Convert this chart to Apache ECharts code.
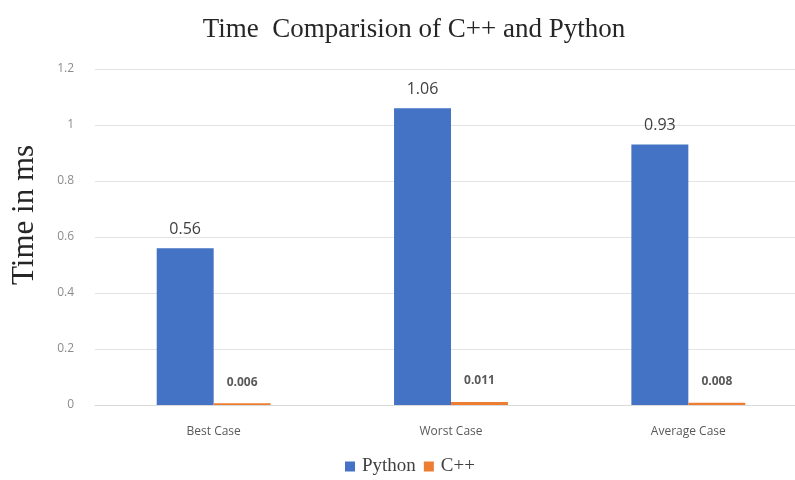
<!DOCTYPE html>
<html>
<head>
<meta charset="utf-8">
<script src="https://cdn.jsdelivr.net/npm/echarts@6/dist/echarts.min.js"></script>
<style>html,body{margin:0;padding:0;background:#fff}#c{width:795px;height:480px}</style>
</head>
<body>
<div id="c"></div>
<script>
const categories = ['Best Case', 'Worst Case', 'Average Case'];
const pythonValues = [0.56, 1.06, 0.93];
const cppValues = [0.006, 0.011, 0.008];
const yTicks = { min: 0, max: 1.2, interval: 0.2 };
const yAxisTitle = 'Time in ms';

const chart = echarts.init(document.getElementById('c'));
chart.setOption({
  animation: false,
  backgroundColor: '#fff',
  title: {
    text: 'Time  Comparision of C++ and Python',
    left: 409, top: 11, textAlign: 'center',
    textStyle: { fontFamily: 'Liberation Serif', fontSize: 27, fontWeight: 'normal', color: '#262626' }
  },
  graphic: [{
    type: 'text', x: 25, y: 215, rotation: Math.PI / 2,
    style: { text: yAxisTitle, fontFamily: 'Liberation Serif', fontSize: 31, fill: '#262626',
      align: 'center', verticalAlign: 'middle' }
  }],
  legend: {
    bottom: -1, left: 340,
    itemWidth: 10, itemHeight: 10, itemGap: 8,
    icon: 'rect',
    textStyle: { fontFamily: 'Liberation Serif', fontSize: 19, color: '#404040', padding: [0, 0, 0, 2] },
    data: ['Python', 'C++']
  },
  grid: { left: 95, right: -12, top: 69, bottom: 75, containLabel: false, outerBoundsMode: 'none' },
  xAxis: {
    type: 'category', data: categories,
    axisTick: { show: false },
    axisLine: { lineStyle: { color: '#d9d9d9' } },
    axisLabel: { margin: 21, fontFamily: 'Open Sans', fontSize: 12, color: '#595959' }
  },
  yAxis: {
    type: 'value', min: yTicks.min, max: yTicks.max, interval: yTicks.interval,
    axisLabel: { margin: 21, fontFamily: 'Open Sans', fontSize: 12, color: '#8c8c8c',
      formatter: v => String(Math.round(v * 10) / 10) },
    splitLine: { lineStyle: { color: '#e3e3e3' } },
    axisLine: { show: false }, axisTick: { show: false }
  },
  series: [
    {
      name: 'Python', type: 'bar', data: pythonValues,
      barGap: '0%', barCategoryGap: '52%',
      itemStyle: { color: '#4472C4' },
      label: { show: true, position: 'top', distance: 11, fontFamily: 'Open Sans', fontSize: 16, color: '#404040' }
    },
    {
      name: 'C++', type: 'bar', data: cppValues,
      itemStyle: { color: '#ED7D31' },
      label: { show: true, position: 'top', distance: 15, fontFamily: 'Open Sans', fontSize: 12, fontWeight: 'bold', color: '#595959' }
    }
  ]
});
</script>
</body>
</html>
